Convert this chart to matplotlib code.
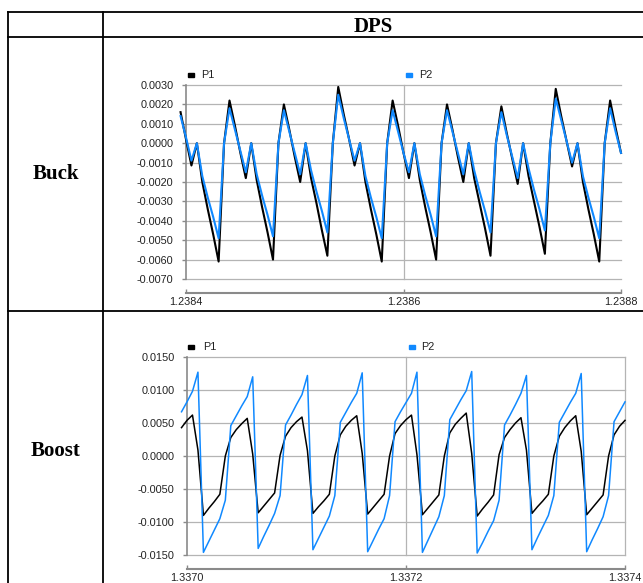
import numpy as np
import matplotlib as mpl
mpl.use('Agg')
import matplotlib.pyplot as plt
from matplotlib.lines import Line2D
from matplotlib.patches import Rectangle
from matplotlib.ticker import FormatStrFormatter

W, H = 643, 583

# sampled waveforms, one value every 5e-6 starting just left of the axis
dt = 0.000005
buck_t0 = 1.238395
boost_t0 = 1.336995

buck_p1 = [0.0016, 0.0002, -0.00115, 0.0, -0.0020, -0.0034, -0.0047, -0.0061, 0.0, 0.0022,
           0.0009, -0.0005, -0.0018, 0.0, -0.0019, -0.0033, -0.0046, -0.0060, 0.0, 0.0020,
           0.0007, -0.0007, -0.0020, 0.0, -0.0018, -0.0031, -0.0045, -0.0058, 0.0, 0.0029,
           0.0015, 0.0002, -0.00115, 0.0, -0.0020, -0.0034, -0.0047, -0.0061, 0.0, 0.0022,
           0.0009, -0.0005, -0.0018, 0.0, -0.0019, -0.0033, -0.0046, -0.0060, 0.0, 0.0020,
           0.0007, -0.0007, -0.0020, 0.0, -0.0018, -0.0031, -0.0044, -0.0058, 0.0, 0.0019,
           0.0005, -0.0008, -0.0021, 0.0, -0.0017, -0.0030, -0.0043, -0.0057, 0.0, 0.0028,
           0.0014, 0.0001, -0.0012, 0.0, -0.0020, -0.0034, -0.0047, -0.0061, 0.0, 0.0022,
           0.0008, -0.0005]
buck_p2 = [0.0014, 0.0003, -0.0009, 0.0, -0.0017, -0.0028, -0.0038, -0.0049, 0.0, 0.0018,
           0.0007, -0.0004, -0.0015, 0.0, -0.0016, -0.0027, -0.0037, -0.0048, 0.0, 0.0017,
           0.0006, -0.0005, -0.0016, 0.0, -0.0014, -0.0025, -0.0035, -0.0046, 0.0, 0.0025,
           0.0013, 0.0002, -0.0009, 0.0, -0.0017, -0.0028, -0.0038, -0.0049, 0.0, 0.0017,
           0.0006, -0.0005, -0.0015, 0.0, -0.0016, -0.0027, -0.0037, -0.0048, 0.0, 0.0017,
           0.0006, -0.0005, -0.0016, 0.0, -0.0014, -0.0025, -0.0035, -0.0046, 0.0, 0.0016,
           0.0004, -0.0007, -0.0018, 0.0, -0.0013, -0.0024, -0.0034, -0.0045, 0.0, 0.0023,
           0.0012, 0.0001, -0.0010, 0.0, -0.0017, -0.0028, -0.0038, -0.0049, 0.0, 0.0018,
           0.0006, -0.0005]

boost_p1 = [0.0043, 0.0054, 0.0062, 0.0009, -0.0090, -0.0079, -0.0069, -0.0058, 0.0000, 0.0028,
            0.0040, 0.0049, 0.0057, 0.0003, -0.0086, -0.0076, -0.0066, -0.0056, 0.0001, 0.0030,
            0.0043, 0.0052, 0.0059, 0.0008, -0.0087, -0.0077, -0.0068, -0.0058, 0.0000, 0.0032,
            0.0045, 0.0054, 0.0061, 0.0004, -0.0088, -0.0078, -0.0068, -0.0058, 0.0000, 0.0034,
            0.0046, 0.0055, 0.0062, 0.0002, -0.0089, -0.0079, -0.0069, -0.0059, 0.0000, 0.0035,
            0.0048, 0.0057, 0.0065, 0.0004, -0.0091, -0.0080, -0.0070, -0.0059, 0.0002, 0.0028,
            0.0040, 0.0050, 0.0058, 0.0009, -0.0087, -0.0077, -0.0068, -0.0058, 0.0000, 0.0030,
            0.0043, 0.0053, 0.0061, 0.0007, -0.0089, -0.0079, -0.0069, -0.0059, 0.0000, 0.0032,
            0.0045, 0.0054]
boost_p2 = [0.0067, 0.0082, 0.0098, 0.0127, -0.0146, -0.0129, -0.0112, -0.0095, -0.0067, 0.0046,
            0.0061, 0.0076, 0.0090, 0.0120, -0.0140, -0.0122, -0.0105, -0.0087, -0.0060, 0.0047,
            0.0062, 0.0078, 0.0093, 0.0122, -0.0142, -0.0125, -0.0108, -0.0091, -0.0060, 0.0051,
            0.0066, 0.0081, 0.0095, 0.0126, -0.0145, -0.0128, -0.0111, -0.0095, -0.0060, 0.0052,
            0.0067, 0.0081, 0.0095, 0.0127, -0.0146, -0.0128, -0.0110, -0.0092, -0.0060, 0.0055,
            0.0070, 0.0085, 0.0099, 0.0128, -0.0147, -0.0131, -0.0114, -0.0098, -0.0067, 0.0047,
            0.0062, 0.0078, 0.0095, 0.0122, -0.0142, -0.0124, -0.0107, -0.0090, -0.0060, 0.0051,
            0.0066, 0.0081, 0.0095, 0.0125, -0.0145, -0.0127, -0.0110, -0.0092, -0.0060, 0.0052,
            0.0067, 0.0082]

buck_xticks = [1.2384, 1.2386, 1.2388]
buck_yticks = [0.0030, 0.0020, 0.0010, 0.0, -0.0010, -0.0020, -0.0030,
               -0.0040, -0.0050, -0.0060, -0.0070]
boost_xticks = [1.3370, 1.3372, 1.3374]
boost_yticks = [0.0150, 0.0100, 0.0050, 0.0, -0.0050, -0.0100, -0.0150]

row_labels = ['Buck', 'Boost']
col_label = 'DPS'
series_names = ['P1', 'P2']

blue = '#1089ff'
grid_c = '#b4b4b4'
axis_c = '#8a8a8a'
tick_font = 'Liberation Sans'

fig = plt.figure(figsize=(W / 100, H / 100), dpi=100)


def fx(x):
    return x / W


def fy(y):
    return 1 - y / H


def hline(y, x0, x1):
    fig.add_artist(Line2D([fx(x0), fx(x1)], [fy(y), fy(y)], color='black', lw=1.3))


def vline(x, y0, y1):
    fig.add_artist(Line2D([fx(x), fx(x)], [fy(y0), fy(y1)], color='black', lw=1.3))


def panel(box, t0, p1, p2, xticks, yticks, vgrid, lw, leg_y, leg_x):
    left, top, right, bottom = box
    ax = fig.add_axes([fx(left), fy(bottom), (right - left) / W, (bottom - top) / H])
    x = t0 + dt * np.arange(len(p1))
    ax.plot(x, p1, color='black', lw=lw, clip_on=False, zorder=3)
    ax.plot(x, p2, color=blue, lw=lw, clip_on=False, zorder=4)
    ax.set_xlim(xticks[0], xticks[-1])
    ax.set_ylim(yticks[-1], yticks[0])
    ax.set_xticks(xticks)
    ax.set_yticks(yticks)
    ax.xaxis.set_major_formatter(FormatStrFormatter('%.4f'))
    ax.yaxis.set_major_formatter(FormatStrFormatter('%.4f'))
    ax.grid(axis='y', color=grid_c, lw=0.9)
    for g in ax.get_ygridlines():
        g.set_clip_on(False)
    for v in vgrid:
        ax.axvline(v, color=grid_c, lw=0.9, zorder=1, clip_on=False)
    ax.set_axisbelow(True)
    for s in ['top', 'right']:
        ax.spines[s].set_visible(False)
    ax.spines['left'].set_color(axis_c)
    ax.spines['left'].set_linewidth(1.2)
    ax.spines['bottom'].set_color(axis_c)
    ax.spines['bottom'].set_linewidth(1.5)
    ax.spines['bottom'].set_position(('outward', 10))
    ax.tick_params(axis='y', direction='out', length=3, width=1, color=axis_c,
                   labelsize=7.8, pad=6)
    ax.tick_params(axis='x', direction='in', length=3, width=1, color=axis_c,
                   labelsize=7.8, pad=3)
    for lab in ax.get_xticklabels() + ax.get_yticklabels():
        lab.set_fontfamily(tick_font)
        lab.set_color('#222222')
    # legend above the plot
    for (mx, tx), name, c in zip(leg_x, series_names, ['black', blue]):
        fig.add_artist(Rectangle((fx(mx), fy(leg_y + 2)), 6 / W, 4 / H,
                                 transform=fig.transFigure, color=c))
        fig.text(fx(tx), fy(leg_y), name, family=tick_font, size=7.8,
                 ha='left', va='center', color='#222222')
    return ax


panel((186, 85, 621, 279), buck_t0, buck_p1, buck_p2, buck_xticks, buck_yticks,
      [buck_xticks[1]], 1.5, 74.5, [(188, 201.5), (406, 419)])
panel((187, 357, 625, 555), boost_t0, boost_p1, boost_p2, boost_xticks, boost_yticks,
      [boost_xticks[1], boost_xticks[2]], 1.1, 347, [(188, 203), (408.5, 421.5)])

# table frame
hline(12.3, 7.7, 643)
hline(37.3, 7.7, 643)
hline(311, 7.7, 643)
vline(7.7, 12.3, 583)
vline(103, 12.3, 583)

fig.text(fx(373.5), fy(26.5), col_label, family='Liberation Serif', weight='bold',
         size=15, ha='center', va='center')
fig.text(fx(55.4), fy(174.5), row_labels[0], family='Liberation Serif', weight='bold',
         size=15, ha='center', va='center')
fig.text(fx(55.4), fy(450.5), row_labels[1], family='Liberation Serif', weight='bold',
         size=15, ha='center', va='center')

fig.savefig('out.png', dpi=100)
